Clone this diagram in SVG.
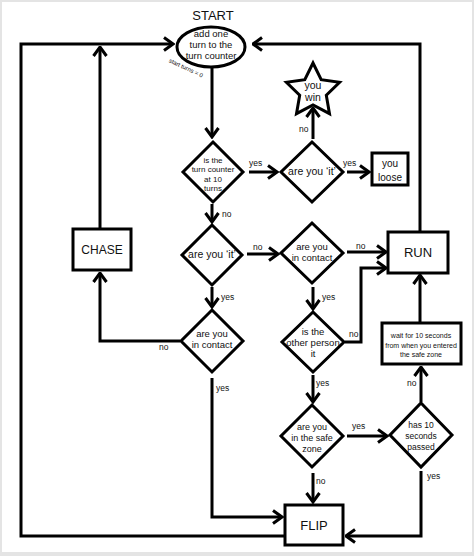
<svg xmlns="http://www.w3.org/2000/svg" width="474" height="556" viewBox="0 0 474 556">
<style>
.s{fill:#fff;stroke:#000;stroke-width:3}
.c{fill:none;stroke:#000;stroke-width:3}
text{font-family:"Liberation Sans",Arial,sans-serif;fill:#111;text-anchor:middle}
.l{font-size:8.5px;text-anchor:start}
</style>
<defs>
<marker id="ah" viewBox="0 0 12 16" refX="10.5" refY="8" markerWidth="12" markerHeight="16" markerUnits="userSpaceOnUse" orient="auto">
<path d="M1.5,1.5 L10.5,8 L1.5,14.5" fill="none" stroke="#000" stroke-width="3"/>
</marker>
</defs>
<rect width="474" height="556" fill="#e4e4e4"/>
<rect x="2" y="2" width="470" height="550" fill="#fff"/>

<g id="connectors">
<path class="c" d="M212,68 V137" marker-end="url(#ah)"/>
<path class="c" d="M249,172 H277" marker-end="url(#ah)"/>
<path class="c" d="M313,139 V108" marker-end="url(#ah)"/>
<path class="c" d="M347,172 H369" marker-end="url(#ah)"/>
<path class="c" d="M212,204 V222" marker-end="url(#ah)"/>
<path class="c" d="M247,254 H278" marker-end="url(#ah)"/>
<path class="c" d="M347,252 H386" marker-end="url(#ah)"/>
<path class="c" d="M345,342 H361 V268 H386" marker-end="url(#ah)"/>
<path class="c" d="M212,287 V307" marker-end="url(#ah)"/>
<path class="c" d="M313,287 V309" marker-end="url(#ah)"/>
<path class="c" d="M313,375 V402" marker-end="url(#ah)"/>
<path class="c" d="M347,436 H387" marker-end="url(#ah)"/>
<path class="c" d="M421,402 V367" marker-end="url(#ah)"/>
<path class="c" d="M420,323 V275" marker-end="url(#ah)"/>
<path class="c" d="M420,232 V44 H253" marker-end="url(#ah)"/>
<path class="c" d="M284,536 H21 V44 H173" marker-end="url(#ah)"/>
<path class="c" d="M100,229 V47" marker-end="url(#ah)"/>
<path class="c" d="M180,341 H100 V273" marker-end="url(#ah)"/>
<path class="c" d="M212,378 V517 H282" marker-end="url(#ah)"/>
<path class="c" d="M313,473 V502" marker-end="url(#ah)"/>
<path class="c" d="M421,471 V536 H346" marker-end="url(#ah)"/>
<text class="l" x="249" y="166">yes</text>
<text class="l" x="343" y="166">yes</text>
<text class="l" x="299" y="132">no</text>
<text class="l" x="222" y="217">no</text>
<text class="l" x="253" y="250">no</text>
<text class="l" x="356" y="249">no</text>
<text class="l" x="221" y="300">yes</text>
<text class="l" x="322" y="300">yes</text>
<text class="l" x="349" y="337">no</text>
<text class="l" x="316" y="386">yes</text>
<text class="l" x="352" y="429">yes</text>
<text class="l" x="407" y="386">no</text>
<text class="l" x="316" y="484">no</text>
<text class="l" x="427" y="479">yes</text>
<text class="l" x="216" y="391">yes</text>
<text class="l" x="159" y="350">no</text>
</g>

<g id="start">
<text x="213" y="20" style="font-size:13px">START</text>
<ellipse class="s" cx="211" cy="47" rx="34" ry="20"/>
<text x="211" y="37" style="font-size:9.5px">add one</text>
<text x="211" y="48" style="font-size:9.5px">turn to the</text>
<text x="211" y="59" style="font-size:9.5px">turn counter</text>
<text x="186" y="70" transform="rotate(25 186 68)" style="font-size:6px">start turns = 0</text>
</g>

<g id="turn-counter">
<path class="s" d="M213,142 L243,172 L213,202 L183,172 Z"/>
<text x="213" y="163" style="font-size:8px">is the</text>
<text x="213" y="172" style="font-size:8px">turn counter</text>
<text x="213" y="182" style="font-size:8px">at 10</text>
<text x="213" y="191" style="font-size:8px">turns</text>
</g>

<g id="are-you-it-1">
<path class="s" d="M312,142 L343,172 L312,202 L281,172 Z"/>
<text x="312" y="175" style="font-size:10.5px">are you ‘it’</text>
</g>

<g id="you-win">
<path class="s" d="M313,63 L321.2,79.7 L339.6,82.3 L326.3,95.3 L329.5,113.7 L313,105 L296.5,113.7 L299.7,95.3 L286.4,82.3 L304.8,79.7 Z"/>
<text x="313" y="89" style="font-size:10.5px">you</text>
<text x="313" y="101" style="font-size:10.5px">win</text>
</g>

<g id="you-loose">
<rect class="s" x="372" y="153" width="36" height="32"/>
<text x="390" y="167" style="font-size:10px">you</text>
<text x="390" y="181" style="font-size:10px">loose</text>
</g>

<g id="are-you-it-2">
<path class="s" d="M212,225 L242,255 L212,285 L182,255 Z"/>
<text x="212" y="258" style="font-size:10.5px">are you ‘it’</text>
</g>

<g id="in-contact-1">
<path class="s" d="M312,223 L343,253 L312,283 L281,253 Z"/>
<text x="312" y="250" style="font-size:9.5px">are you</text>
<text x="312" y="261" style="font-size:9.5px">in contact</text>
</g>

<g id="run">
<rect class="s" x="388" y="232" width="60" height="41"/>
<text x="418" y="257" style="font-size:13px">RUN</text>
</g>

<g id="chase">
<rect class="s" x="73" y="229" width="58" height="41"/>
<text x="102" y="254" style="font-size:12px">CHASE</text>
</g>

<g id="in-contact-2">
<path class="s" d="M212,310 L243,341 L212,372 L181,341 Z"/>
<text x="212" y="337" style="font-size:9.5px">are you</text>
<text x="212" y="348" style="font-size:9.5px">in contact</text>
</g>

<g id="other-person">
<path class="s" d="M313,312 L344,342 L313,372 L282,342 Z"/>
<text x="313" y="335" style="font-size:9.5px">is the</text>
<text x="313" y="346" style="font-size:9.5px">other person</text>
<text x="313" y="357" style="font-size:9.5px">it</text>
</g>

<g id="safe-zone">
<path class="s" d="M312,405 L343,436 L312,467 L281,436 Z"/>
<text x="312" y="430" style="font-size:9px">are you</text>
<text x="312" y="441" style="font-size:9px">in the safe</text>
<text x="312" y="452" style="font-size:9px">zone</text>
</g>

<g id="ten-seconds">
<path class="s" d="M421,403 L452,435 L421,467 L390,435 Z"/>
<text x="421" y="428" style="font-size:8.5px">has 10</text>
<text x="421" y="439" style="font-size:8.5px">seconds</text>
<text x="421" y="450" style="font-size:8.5px">passed</text>
</g>

<g id="wait">
<rect class="s" x="382" y="323" width="79" height="41"/>
<text x="421" y="338" style="font-size:7px">wait for 10 seconds</text>
<text x="421" y="347.5" style="font-size:7px">from when you entered</text>
<text x="421" y="357" style="font-size:7px">the safe zone</text>
</g>

<g id="flip">
<rect class="s" x="285" y="505" width="58" height="40"/>
<text x="314" y="530" style="font-size:13px">FLIP</text>
</g>
</svg>
